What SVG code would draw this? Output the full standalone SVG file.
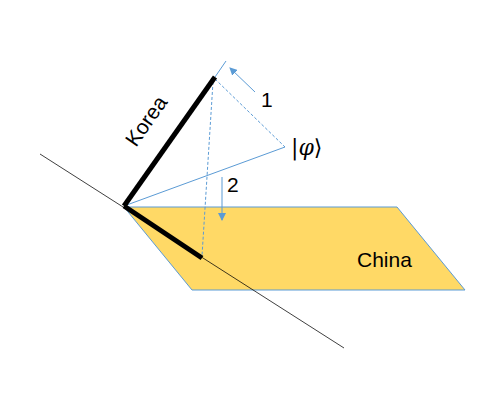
<svg xmlns="http://www.w3.org/2000/svg" width="500" height="400" viewBox="0 0 500 400">
<defs>
<marker id="ah" markerWidth="8" markerHeight="8" refX="7" refY="4" orient="auto" markerUnits="userSpaceOnUse"><path d="M0,0 L8,4 L0,8 z" fill="#5B9BD5"/></marker>
<style>
.lbl{font-family:"Liberation Sans","Open Sans",sans-serif;font-size:21px;fill:#000}
.blue{stroke:#5B9BD5;stroke-width:1;fill:none}
.dash{stroke-dasharray:3,2}
</style>
</defs>
<rect width="500" height="400" fill="#fff"/>
<g id="china">
<polygon points="124,207 397,207 465,290 192,290" fill="#FFD966" stroke="#5B9BD5" stroke-width="1"/>
<text class="lbl" x="357" y="267">China</text>
</g>
<g id="connectors">
<line x1="40" y1="154" x2="344" y2="348" stroke="#000" stroke-width="0.75"/>
<line class="blue" x1="215" y1="77" x2="226" y2="61"/>
<line class="blue" x1="124" y1="206" x2="285" y2="147"/>
<line class="blue dash" x1="215" y1="79" x2="285" y2="147"/>
<line class="blue dash" x1="213" y1="82" x2="202" y2="256"/>
<line class="blue" x1="255" y1="92" x2="230" y2="68" marker-end="url(#ah)" stroke-width="1.5"/>
<line class="blue" x1="222" y1="177" x2="222" y2="220" marker-end="url(#ah)" stroke-width="1.5"/>
</g>
<g id="korea">
<line x1="124" y1="206" x2="215" y2="77" stroke="#000" stroke-width="5"/>
<text class="lbl" transform="translate(136,148) rotate(-55)">Korea</text>
</g>
<g id="china-axis">
<line x1="124" y1="206" x2="202" y2="258" stroke="#000" stroke-width="5"/>
</g>
<g id="phi">
<text x="291" y="155" font-family="DejaVu Serif,Liberation Serif,serif" font-size="22">|<tspan font-style="italic">φ</tspan>⟩</text>
</g>
<g id="labels">
<text class="lbl" x="261" y="107">1</text>
<text class="lbl" x="227" y="192">2</text>
</g>
</svg>
